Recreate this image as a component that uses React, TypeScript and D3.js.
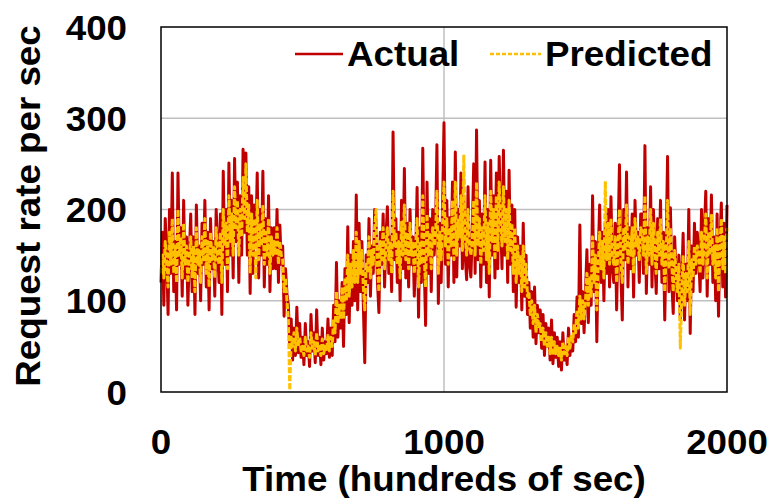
import React from "react";
import * as d3 from "d3";

// Time axis: samples every 5 units (hundreds of sec)
const STEP = 5;
const xTicks = [0, 1000, 2000];
const yTicks = [0, 100, 200, 300, 400];
const seriesNames = ["Actual", "Predicted"];

const actual: number[] = [
  120, 175, 95, 190, 150, 85, 200, 130, 240, 110, 165, 90, 240, 140, 180, 105, 210, 125, 170, 95,
  150, 195, 110, 170, 85, 205, 130, 160, 100, 185, 140, 210, 115, 175, 90, 190, 135, 165, 105, 200,
  160, 120, 195, 85, 242, 140, 200, 110, 251, 150, 210, 125, 256, 165, 230, 120, 215, 150, 266, 175,
  262, 150, 225, 108, 215, 130, 205, 165, 240, 125, 200, 150, 242, 115, 190, 140, 215, 110, 180, 135,
  180, 135, 200, 120, 183, 140, 160, 83, 135, 108, 95, 50, 80, 35, 70, 40, 93, 43, 75, 38,
  60, 30, 75, 40, 55, 28, 85, 45, 65, 32, 90, 40, 60, 30, 70, 35, 55, 42, 80, 38,
  70, 40, 95, 55, 142, 60, 100, 70, 120, 50, 135, 85, 181, 76, 150, 95, 165, 100, 216, 90,
  185, 110, 165, 95, 32, 150, 120, 190, 105, 160, 130, 200, 186, 120, 87, 175, 140, 195, 115, 170,
  203, 130, 170, 110, 285, 145, 190, 120, 175, 100, 210, 135, 245, 125, 185, 115, 200, 140, 170, 105,
  150, 224, 82, 180, 120, 267, 140, 73, 230, 130, 190, 110, 200, 150, 175, 271, 97, 185, 120, 205,
  295, 140, 210, 115, 191, 150, 230, 120, 263, 126, 200, 160, 240, 135, 210, 150, 123, 225, 140, 126,
  175, 250, 130, 287, 145, 210, 115, 195, 140, 252, 120, 200, 104, 254, 150, 215, 125, 240, 135, 258,
  190, 135, 265, 150, 220, 120, 243, 140, 205, 110, 200, 93, 170, 120, 160, 90, 185, 105, 150, 85,
  120, 70, 110, 60, 115, 53, 95, 65, 90, 48, 85, 40, 75, 50, 70, 35, 79, 31, 65, 38,
  60, 28, 55, 24, 65, 35, 50, 30, 70, 40, 60, 45, 85, 55, 104, 60, 183, 75, 110, 65,
  110, 156, 76, 140, 95, 215, 110, 165, 55, 150, 205, 120, 175, 100, 185, 130, 200, 115, 214, 135,
  120, 185, 90, 170, 249, 130, 79, 200, 145, 241, 115, 180, 135, 195, 104, 210, 150, 175, 120, 195,
  195, 130, 270, 108, 180, 140, 225, 115, 200, 150, 108, 190, 135, 210, 120, 175, 79, 160, 258, 110,
  202, 120, 86, 170, 130, 100, 150, 80, 120, 174, 79, 140, 100, 200, 64, 160, 110, 185, 130, 175,
  150, 110, 200, 125, 175, 220, 105, 190, 140, 216, 120, 170, 100, 195, 83, 165, 207, 115, 185, 104, 205,
];

const predicted: number[] = [
  130, 150, 125, 165, 140, 115, 175, 140, 190, 130, 160, 120, 200, 150, 170, 125, 185, 140, 160, 120,
  145, 170, 125, 160, 110, 180, 140, 155, 120, 170, 145, 190, 130, 165, 115, 175, 145, 160, 125, 180,
  150, 140, 175, 120, 200, 160, 185, 135, 215, 165, 195, 150, 225, 180, 210, 150, 200, 170, 235, 190,
  250, 175, 205, 130, 195, 150, 190, 125, 210, 145, 185, 160, 205, 140, 175, 150, 190, 130, 170, 150,
  165, 150, 180, 140, 165, 150, 145, 110, 125, 100, 80, 2, 60, 50, 65, 45, 70, 50, 60, 45,
  50, 40, 60, 45, 50, 38, 65, 48, 55, 40, 65, 45, 52, 40, 58, 42, 50, 45, 62, 45,
  60, 50, 80, 65, 110, 75, 95, 80, 115, 80, 125, 100, 150, 105, 140, 115, 155, 120, 175, 120,
  165, 130, 155, 115, 90, 140, 130, 170, 125, 155, 140, 180, 200, 140, 110, 165, 145, 180, 135, 160,
  180, 145, 165, 130, 220, 160, 175, 140, 165, 125, 186, 150, 205, 145, 175, 135, 185, 150, 165, 130,
  155, 190, 115, 165, 140, 215, 150, 115, 195, 150, 175, 135, 180, 160, 170, 220, 130, 175, 145, 185,
  230, 160, 190, 140, 180, 160, 210, 145, 230, 150, 190, 170, 215, 155, 260, 170, 150, 200, 160, 150,
  165, 210, 150, 230, 160, 190, 140, 180, 155, 215, 145, 185, 130, 220, 165, 200, 145, 215, 155, 230,
  185, 160, 225, 165, 200, 145, 210, 155, 185, 130, 180, 120, 160, 130, 150, 110, 160, 115, 140, 105,
  110, 85, 100, 75, 95, 65, 85, 70, 75, 55, 70, 50, 65, 50, 60, 42, 60, 40, 55, 42,
  50, 40, 48, 35, 55, 42, 50, 40, 60, 48, 62, 55, 75, 65, 90, 70, 105, 80, 100, 80,
  100, 130, 95, 125, 105, 170, 120, 150, 90, 140, 175, 135, 165, 125, 231, 145, 185, 140, 190, 150,
  140, 170, 120, 160, 200, 145, 120, 180, 155, 205, 140, 170, 150, 180, 130, 190, 160, 170, 145, 180,
  175, 150, 215, 130, 170, 150, 200, 140, 185, 155, 130, 175, 150, 190, 140, 165, 110, 150, 210, 135,
  180, 140, 110, 155, 130, 110, 140, 48, 105, 150, 95, 130, 110, 165, 85, 145, 125, 160, 140, 160,
  150, 130, 175, 140, 165, 195, 125, 175, 150, 195, 140, 160, 125, 180, 110, 160, 190, 135, 170, 130, 180,
];

const W = 773;
const H = 501;
const M = { left: 161, right: 727, top: 27, bottom: 392 };
const FONT = "'Liberation Sans', Arial, Helvetica, sans-serif";
const RED = "#C00000";
const GOLD = "#FFC000";
const GRID = "#BFBFBF";

export default function App() {
  const x = d3.scaleLinear().domain([0, 2000]).range([M.left, M.right]);
  const y = d3.scaleLinear().domain([0, 400]).range([M.bottom, M.top]);

  const line = d3
    .line<number>()
    .x((_, i) => x(i * STEP))
    .y((d) => y(d));

  const fs = 35;
  const sx = 1.05;

  return (
    <svg
      width={W}
      height={H}
      style={{ position: "absolute", left: 0, top: 0, background: "#fff" }}
      fontFamily={FONT}
      fontWeight="bold"
    >
      {/* gridlines */}
      {yTicks
        .filter((t) => t > 0 && t < 400)
        .map((t) => (
          <line key={"gy" + t} x1={M.left} x2={M.right} y1={y(t)} y2={y(t)} stroke={GRID} strokeWidth={1.5} />
        ))}
      {xTicks
        .filter((t) => t > 0 && t < 2000)
        .map((t) => (
          <line key={"gx" + t} x1={x(t)} x2={x(t)} y1={M.top} y2={M.bottom} stroke={GRID} strokeWidth={1.5} />
        ))}

      {/* series */}
      <path d={line(actual) || ""} fill="none" stroke={RED} strokeWidth={3} strokeLinejoin="round" />
      <path
        d={line(predicted) || ""}
        fill="none"
        stroke={GOLD}
        strokeWidth={3}
        strokeDasharray="6,2"
        strokeLinejoin="round"
      />

      {/* frame */}
      <rect
        x={M.left}
        y={M.top}
        width={M.right - M.left}
        height={M.bottom - M.top}
        fill="none"
        stroke="#000"
        strokeWidth={1.5}
      />

      {/* y tick labels */}
      {yTicks.map((t) => (
        <text
          key={"yl" + t}
          transform={`translate(127,${y(t) + fs * 0.36}) scale(${sx},1)`}
          textAnchor="end"
          fontSize={fs}
          fill="#000"
        >
          {t}
        </text>
      ))}

      {/* x tick labels */}
      {xTicks.map((t) => (
        <text
          key={"xl" + t}
          transform={`translate(${x(t)},454) scale(${sx},1)`}
          textAnchor="middle"
          fontSize={fs}
          fill="#000"
        >
          {t}
        </text>
      ))}

      {/* axis titles */}
      <text
        transform={`translate(444,491) scale(${sx},1)`}
        textAnchor="middle"
        fontSize={fs}
        fill="#000"
      >
        Time (hundreds of sec)
      </text>
      <text
        transform={`translate(40,206) rotate(-90) scale(${sx},1)`}
        textAnchor="middle"
        fontSize={fs}
        fill="#000"
      >
        Request rate per sec
      </text>

      {/* legend */}
      <line x1={295} x2={343} y1={54} y2={54} stroke={RED} strokeWidth={2.5} />
      <text transform={`translate(347,66) scale(${sx},1)`} fontSize={fs} fill="#000">
        {seriesNames[0]}
      </text>
      <line x1={490} x2={541} y1={54} y2={54} stroke={GOLD} strokeWidth={2.5} strokeDasharray="4,2" />
      <text transform={`translate(545,66) scale(${sx},1)`} fontSize={fs} fill="#000">
        {seriesNames[1]}
      </text>
    </svg>
  );
}
